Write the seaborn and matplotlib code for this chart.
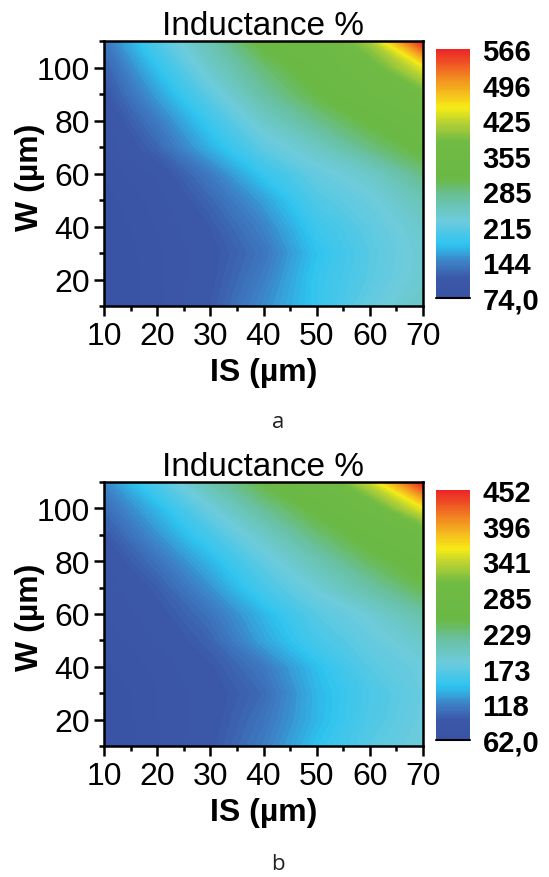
import numpy as np
import pandas as pd
import seaborn as sns
import matplotlib
matplotlib.use("Agg")
import matplotlib.pyplot as plt
from matplotlib.colors import LinearSegmentedColormap
from matplotlib.ticker import MultipleLocator

# ---------------- data ----------------
IS_um = [10, 20, 30, 40, 50, 60, 70]
W_um = [10, 20, 30, 40, 50, 60, 70, 80, 90, 100, 110]

# rows = W (10 -> 110), columns = IS (10 -> 70)
inductance_a = [
    [76, 90, 115, 150, 185, 220, 245],
    [74, 92, 112, 142, 185, 212, 238],
    [76, 92, 110, 135, 180, 210, 235],
    [78, 95, 115, 145, 190, 215, 240],
    [82, 98, 125, 160, 205, 225, 255],
    [88, 105, 140, 185, 220, 240, 285],
    [95, 125, 170, 215, 245, 285, 320],
    [100, 140, 190, 240, 280, 315, 345],
    [110, 160, 215, 270, 310, 345, 375],
    [120, 180, 240, 290, 330, 365, 440],
    [135, 205, 260, 320, 345, 410, 566],
]
inductance_b = [
    [62, 77, 92, 115, 146, 170, 185],
    [63, 78, 90, 110, 140, 165, 182],
    [65, 78, 89, 105, 140, 163, 180],
    [70, 80, 93, 113, 144, 170, 183],
    [74, 85, 101, 132, 160, 178, 195],
    [78, 90, 110, 140, 170, 187, 215],
    [80, 97, 125, 160, 187, 215, 245],
    [85, 109, 140, 175, 207, 240, 262],
    [93, 125, 160, 195, 232, 260, 280],
    [105, 140, 182, 222, 255, 285, 355],
    [120, 165, 210, 250, 275, 343, 452],
]
range_a = (74.0, 566.0)
range_b = (62.0, 452.0)
cbar_labels_a = ["74,0", "144", "215", "285", "355", "425", "496", "566"]
cbar_labels_b = ["62,0", "118", "173", "229", "285", "341", "396", "452"]
title_text = "Inductance %"
xlabel_text = "IS (µm)"
ylabel_text = "W (µm)"
panel_tags = ["a", "b"]

# ---------------- style ----------------
sns.set_theme(style="ticks")
plt.rcParams['font.family'] = ['Liberation Sans', 'DejaVu Sans']

cmap = LinearSegmentedColormap.from_list("origin_rainbow", [
    (0.00, "#3a53a4"),
    (0.08, "#3b58a8"),
    (0.14, "#3d7fc4"),
    (0.215, "#2ec4f0"),
    (0.31, "#6dcbdc"),
    (0.40, "#69c1a3"),
    (0.48, "#6ab845"),
    (0.63, "#70bb44"),
    (0.70, "#b3cf35"),
    (0.765, "#f6eb16"),
    (0.86, "#f4a020"),
    (1.00, "#ec2227"),
])

fig = plt.figure(figsize=(5.49, 8.78), dpi=100)
W_px, H_px = 549, 878


def fr(x0, y0, x1, y1):
    return [x0 / W_px, 1 - y1 / H_px, (x1 - x0) / W_px, (y1 - y0) / H_px]


panels = [
    (inductance_a, range_a, cbar_labels_a, fr(104, 42, 423, 307), fr(436, 50, 470, 299), 422),
    (inductance_b, range_b, cbar_labels_b, fr(104, 483, 423, 747), fr(436, 491, 470, 741), 865),
]

for (vals, (vmin, vmax), clabels, axrect, caxrect, tag_y), tag in zip(panels, panel_tags):
    df = pd.DataFrame(vals, index=W_um, columns=IS_um)
    ax = fig.add_axes(axrect)
    levels = np.linspace(vmin, vmax, 120)
    cf = ax.contourf(df.columns.values, df.index.values, df.values,
                     levels=levels, cmap=cmap, vmin=vmin, vmax=vmax)
    cf.set_edgecolor("face")
    cf.set_linewidth(0.4)
    ax.set_xlim(10, 70)
    ax.set_ylim(10, 110)
    ax.xaxis.set_major_locator(MultipleLocator(10))
    ax.xaxis.set_minor_locator(MultipleLocator(5))
    ax.yaxis.set_major_locator(MultipleLocator(20))
    ax.set_yticks([10, 30, 50, 70, 90, 110], minor=True)
    for s in ax.spines.values():
        s.set_linewidth(1.8)
        s.set_color("black")
    ax.tick_params(which="major", direction="out", length=7, width=1.8,
                   labelsize=23, colors="black", pad=3)
    ax.tick_params(which="minor", direction="out", length=3.5, width=1.8, colors="black")
    ax.tick_params(axis="x", which="major", pad=4)
    ax.set_title(title_text, fontsize=24, pad=2, color="black")
    ax.set_xlabel(xlabel_text, fontsize=23, fontweight="bold", labelpad=4, color="black")
    ax.set_ylabel(ylabel_text, fontsize=23, fontweight="bold", color="black")
    ax.yaxis.set_label_coords(-0.185, 0.49)

    cax = fig.add_axes(caxrect)
    ticks = np.linspace(vmin, vmax, 8)
    cb = fig.colorbar(cf, cax=cax, ticks=ticks)
    cb.outline.set_visible(False)
    cb.ax.set_yticklabels(clabels, fontsize=21, fontweight="bold")
    cb.ax.tick_params(length=0, pad=9, colors="black")
    cax.axhline(vmin, color="black", lw=1.5, clip_on=False)

    fig.text(278 / W_px, 1 - tag_y / H_px, tag, ha="center", va="center",
             fontsize=16, family=["Open Sans", "DejaVu Sans"], color="#222222")

fig.savefig("out.png", dpi=100, facecolor="white")
